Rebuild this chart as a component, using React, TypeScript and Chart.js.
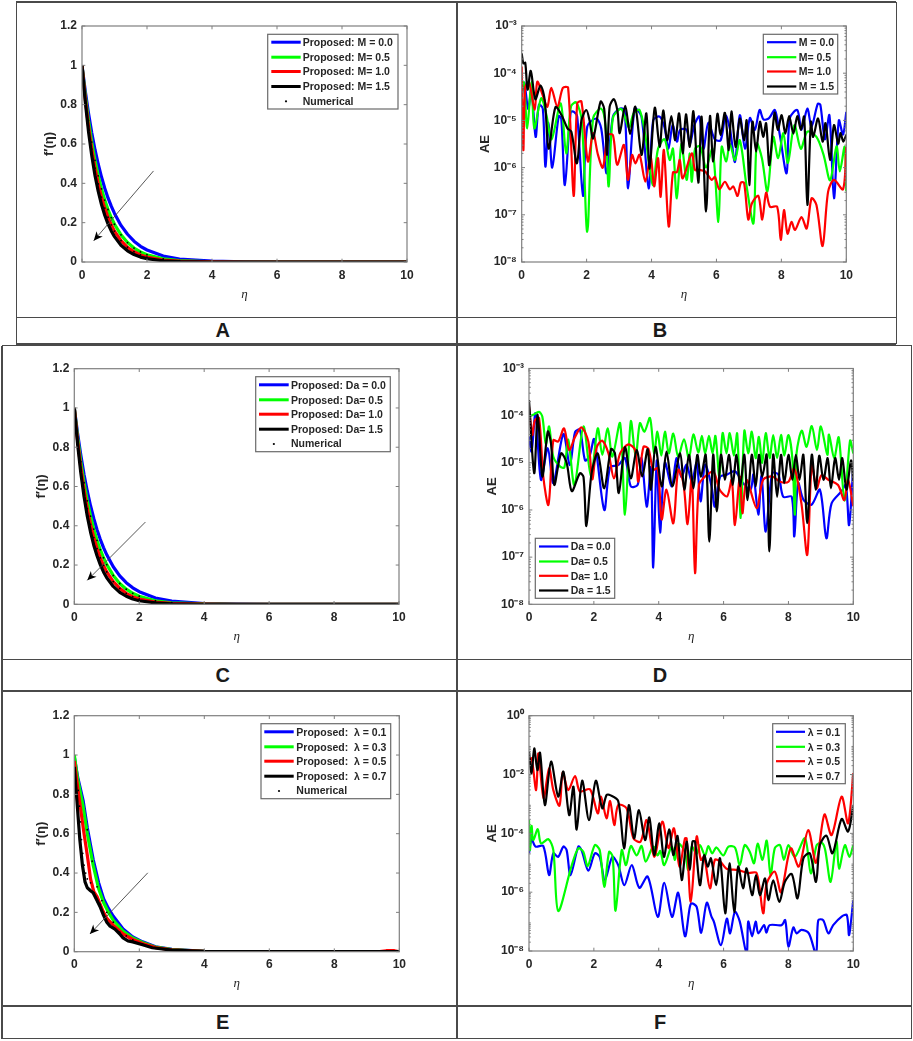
import React, { useEffect, useRef } from "react";
import { Chart, registerables } from "chart.js";

Chart.register(...registerables);

const FONT = "'Liberation Sans', Arial, sans-serif";
const INK = "#262626";
const BLUE = "#0000ff";
const GREEN = "#00ff00";
const RED = "#ff0000";
const BLACK = "#000000";

// ---- f'(eta) panels: shared eta samples
const etaF = [0, 0.1, 0.2, 0.3, 0.4, 0.5, 0.6, 0.7, 0.8, 0.9, 1, 1.2, 1.4, 1.6, 1.8, 2, 2.5, 3, 4, 5, 6, 8, 10];

const aM00 = [1, 0.87, 0.756, 0.657, 0.571, 0.497, 0.432, 0.375, 0.326, 0.284, 0.247, 0.186, 0.141, 0.106, 0.08, 0.061, 0.03, 0.015, 0.004, 0.001, 0, 0, 0];
const aM05 = [1, 0.848, 0.719, 0.61, 0.517, 0.438, 0.372, 0.315, 0.267, 0.226, 0.192, 0.138, 0.099, 0.071, 0.051, 0.037, 0.016, 0.007, 0.001, 0, 0, 0, 0];
const aM10 = [1, 0.831, 0.691, 0.574, 0.477, 0.397, 0.33, 0.274, 0.228, 0.189, 0.157, 0.109, 0.075, 0.052, 0.036, 0.025, 0.01, 0.004, 0.001, 0, 0, 0, 0];
const aM15 = [1, 0.815, 0.664, 0.541, 0.44, 0.359, 0.292, 0.238, 0.194, 0.158, 0.129, 0.085, 0.057, 0.038, 0.025, 0.017, 0.006, 0.002, 0, 0, 0, 0, 0];

const cDa00 = [1, 0.872, 0.76, 0.661, 0.576, 0.502, 0.437, 0.38, 0.331, 0.289, 0.252, 0.191, 0.145, 0.11, 0.084, 0.064, 0.032, 0.016, 0.004, 0.001, 0, 0, 0];
const cDa05 = [1, 0.852, 0.726, 0.619, 0.527, 0.449, 0.383, 0.326, 0.278, 0.237, 0.202, 0.147, 0.106, 0.077, 0.056, 0.041, 0.018, 0.008, 0.002, 0, 0, 0, 0];
const cDa10 = [1, 0.835, 0.698, 0.583, 0.487, 0.407, 0.34, 0.284, 0.237, 0.198, 0.165, 0.116, 0.081, 0.056, 0.039, 0.027, 0.011, 0.005, 0.001, 0, 0, 0, 0];
const cDa15 = [1, 0.819, 0.67, 0.549, 0.449, 0.368, 0.301, 0.247, 0.202, 0.165, 0.135, 0.091, 0.061, 0.041, 0.027, 0.018, 0.007, 0.002, 0, 0, 0, 0, 0];

// lambda panel: every curve has its own samples
const eL01 = [[0, 0.99], [0.1, 0.89], [0.27, 0.77], [0.4, 0.63], [0.58, 0.47], [0.75, 0.35], [0.9, 0.27], [1.05, 0.22], [1.2, 0.18], [1.5, 0.115], [1.8, 0.075], [2.1, 0.05], [2.5, 0.025], [3, 0.012], [4, 0.002], [5, 0], [10, 0]];
const eL03 = [[0, 1], [0.1, 0.88], [0.27, 0.74], [0.4, 0.6], [0.58, 0.44], [0.75, 0.32], [0.9, 0.25], [1.05, 0.2], [1.2, 0.16], [1.5, 0.105], [1.8, 0.07], [2.1, 0.047], [2.5, 0.023], [3, 0.011], [4, 0.002], [5, 0], [10, 0]];
const eL05 = [[0, 0.97], [0.1, 0.84], [0.2, 0.72], [0.3, 0.6], [0.4, 0.49], [0.5, 0.37], [0.6, 0.305], [0.7, 0.28], [0.8, 0.24], [0.9, 0.2], [1, 0.17], [1.2, 0.135], [1.5, 0.09], [1.8, 0.062], [2.1, 0.042], [2.5, 0.021], [3, 0.01], [4, 0.002], [5, 0], [9.4, 0], [9.6, 0.005], [9.85, 0.005], [10, 0]];
const eL07 = [[0, 0.94], [0.08, 0.77], [0.17, 0.57], [0.25, 0.44], [0.33, 0.355], [0.4, 0.325], [0.5, 0.31], [0.58, 0.3], [0.7, 0.26], [0.79, 0.23], [0.9, 0.185], [1, 0.15], [1.1, 0.13], [1.25, 0.115], [1.4, 0.09], [1.5, 0.07], [1.65, 0.055], [1.8, 0.05], [2.1, 0.035], [2.4, 0.02], [3, 0.008], [4, 0.002], [5, 0], [10, 0]];
const eNumerical = [[0.12, 0.82], [0.16, 0.74], [0.19, 0.66], [0.22, 0.57], [0.26, 0.5], [0.3, 0.44], [0.35, 0.4], [0.4, 0.37], [0.5, 0.35], [0.6, 0.3], [0.66, 0.27], [0.72, 0.25], [0.8, 0.24], [0.4, 0.62], [0.55, 0.46], [0.7, 0.33], [0.85, 0.26], [1, 0.2], [1.2, 0.15], [1.4, 0.1], [1.6, 0.08], [1.8, 0.06], [2.1, 0.04]];

// ---- AE panels: [eta, log10(AE)] pairs
const bM00 = [[0, -4.5], [0.08, -4.2], [0.2, -4.76], [0.3, -4.35], [0.43, -5.35], [0.53, -4.67], [0.65, -4.75], [0.73, -5.98], [0.83, -5.05], [0.94, -6], [1.14, -4.91], [1.22, -4.97], [1.33, -6.37], [1.51, -4.82], [1.61, -4.82], [1.71, -4.92], [1.89, -6.6], [2.02, -5.13], [2.3, -4.96], [2.45, -5.17], [2.62, -6.12], [2.81, -4.92], [3.02, -4.75], [3.17, -4.78], [3.28, -6.44], [3.48, -4.75], [3.69, -4.92], [3.91, -6.44], [4.05, -5], [4.25, -4.92], [4.4, -5.15], [4.52, -5.6], [4.65, -5.1], [4.78, -5.45], [4.88, -5.2], [5.08, -5.2], [5.18, -5.5], [5.32, -5.1], [5.47, -4.92], [5.6, -5.6], [5.75, -5.05], [5.95, -5.4], [6.13, -5.42], [6.28, -4.9], [6.42, -5.2], [6.57, -5.88], [6.72, -4.89], [6.88, -5.6], [7.03, -4.95], [7.18, -5.2], [7.33, -4.78], [7.45, -4.98], [7.62, -4.95], [7.8, -4.78], [7.95, -5.3], [8.16, -6.12], [8.26, -4.95], [8.49, -4.78], [8.62, -5.2], [8.8, -4.75], [8.93, -5.13], [9.12, -4.65], [9.2, -4.67], [9.34, -5.4], [9.48, -4.89], [9.62, -6.65], [9.77, -5], [9.9, -5.3], [10, -4.82]];
const bM05 = [[0, -4.2], [0.07, -4.2], [0.17, -5.17], [0.3, -4.18], [0.39, -5.17], [0.6, -4.53], [0.76, -4.88], [0.92, -5.4], [1.2, -4.64], [1.37, -5.7], [1.52, -4.7], [1.68, -4.62], [1.85, -5], [2.02, -7.36], [2.2, -4.95], [2.45, -4.75], [2.58, -5.1], [2.68, -6.4], [2.81, -4.95], [3.07, -4.76], [3.3, -5.15], [3.45, -4.85], [3.63, -4.78], [3.8, -5.28], [3.92, -5.9], [4.05, -6.37], [4.2, -5.6], [4.4, -5.4], [4.56, -5.84], [4.66, -5.6], [4.78, -6.65], [4.92, -5.5], [5.08, -6.26], [5.18, -5.7], [5.24, -6.3], [5.34, -5.6], [5.5, -5.55], [5.68, -6], [5.88, -5.6], [6.06, -7.15], [6.16, -5.56], [6.3, -5.87], [6.41, -5.49], [6.57, -5.84], [6.72, -5.42], [6.93, -6.4], [7.14, -7.18], [7.24, -5.49], [7.4, -5.8], [7.57, -6.5], [7.75, -5.35], [7.9, -5.8], [8.06, -5.27], [8.2, -5.9], [8.4, -5.1], [8.6, -5.6], [8.8, -5.24], [9.08, -5.35], [9.3, -5.73], [9.5, -6.27], [9.7, -5.55], [9.8, -6.08], [9.95, -5.56], [10, -6.5]];
const bM10 = [[0, -3.86], [0.05, -5.63], [0.11, -4.29], [0.23, -4.2], [0.4, -4.78], [0.48, -4.18], [0.63, -4.43], [0.79, -4.71], [0.91, -4.31], [1.1, -4.71], [1.27, -4.31], [1.43, -4.31], [1.6, -6.6], [1.71, -4.64], [1.84, -4.6], [2.04, -5.87], [2.2, -5.27], [2.35, -5.73], [2.5, -6], [2.66, -5.31], [2.81, -5.31], [2.94, -5.94], [3.15, -5.52], [3.27, -6.26], [3.4, -5.73], [3.5, -5.91], [3.63, -5.73], [3.81, -6.3], [3.97, -5.75], [4.08, -6.4], [4.2, -5.8], [4.28, -6.62], [4.38, -5.63], [4.53, -7.25], [4.66, -6.1], [4.78, -6.1], [4.87, -5.84], [4.96, -6.23], [5.24, -5.7], [5.34, -6.05], [5.49, -6.05], [5.65, -6.08], [5.85, -6.26], [5.95, -6.2], [6.09, -6.46], [6.26, -6.3], [6.41, -6.46], [6.52, -6.4], [6.65, -6.6], [6.75, -6.32], [6.85, -6.32], [6.98, -7.1], [7.09, -6.76], [7.29, -6.6], [7.41, -7.1], [7.53, -6.53], [7.65, -6.83], [7.87, -6.83], [7.98, -7.53], [8.08, -6.9], [8.19, -7.4], [8.31, -7.15], [8.42, -7.32], [8.62, -7.05], [8.78, -7.29], [8.93, -6.65], [9.08, -6.79], [9.27, -7.66], [9.44, -6.51], [9.62, -6.26], [9.9, -6.46], [10, -5.56]];
const bM15 = [[0, -3.58], [0.05, -3.79], [0.11, -3.78], [0.18, -4.35], [0.28, -3.95], [0.42, -4.55], [0.58, -4.26], [0.71, -4.57], [0.83, -5.6], [1.04, -4.72], [1.23, -4.89], [1.41, -5.17], [1.53, -5.24], [1.7, -5.91], [1.84, -5], [1.99, -4.78], [2.09, -5], [2.2, -5.38], [2.43, -4.6], [2.54, -4.75], [2.63, -5.73], [2.71, -4.71], [2.84, -4.55], [2.95, -4.8], [3.02, -5.27], [3.19, -4.69], [3.34, -5.29], [3.5, -4.71], [3.69, -5.73], [3.84, -4.85], [3.94, -6.02], [4.1, -4.73], [4.25, -5.56], [4.36, -4.79], [4.48, -5.42], [4.61, -4.91], [4.73, -5.42], [4.85, -4.85], [4.96, -5.7], [5.06, -4.87], [5.18, -5.56], [5.29, -4.81], [5.44, -6.32], [5.54, -4.92], [5.68, -6.93], [5.8, -4.91], [5.9, -5.87], [6.03, -4.86], [6.13, -5.31], [6.26, -4.84], [6.38, -5.63], [6.46, -4.81], [6.59, -5.56], [6.72, -4.96], [6.85, -5.42], [6.93, -5], [7.01, -6.37], [7.11, -5.03], [7.22, -5.66], [7.34, -5.03], [7.44, -5.35], [7.53, -5.06], [7.63, -5.95], [7.79, -4.84], [7.89, -5.2], [8.01, -4.89], [8.12, -5.28], [8.24, -4.91], [8.37, -5.28], [8.49, -4.91], [8.6, -5.2], [8.7, -4.92], [8.8, -6.79], [8.91, -5.03], [8.98, -5.35], [9.13, -4.96], [9.27, -5.45], [9.36, -5.06], [9.5, -5.84], [9.62, -5.1], [9.75, -5.49], [9.82, -5.27], [9.91, -5.45], [10, -5.3]];

const dDa00 = [[0, -4.44], [0.08, -4.76], [0.2, -3.95], [0.37, -5.36], [0.58, -4.69], [0.75, -5.43], [1.06, -4.39], [1.26, -5.05], [1.42, -4.35], [1.57, -4.3], [1.73, -4.95], [1.87, -4.85], [2.01, -4.5], [2.32, -6], [2.5, -5.1], [2.75, -5.05], [2.96, -4.9], [3.14, -5.5], [3.35, -5.47], [3.47, -4.9], [3.63, -5.93], [3.76, -5.1], [3.83, -7.22], [3.94, -4.95], [4.04, -6.48], [4.19, -5], [4.4, -5.5], [4.55, -4.9], [4.7, -5.3], [4.86, -5.04], [5.02, -5.4], [5.17, -5], [5.29, -5.82], [5.43, -5.04], [5.63, -5.5], [5.73, -5.93], [5.89, -5.3], [6.1, -5.25], [6.35, -5.18], [6.6, -5.43], [6.83, -5.57], [6.92, -5.25], [7.07, -6.1], [7.17, -5.28], [7.3, -6.46], [7.5, -5.22], [7.69, -5.25], [7.84, -5.72], [8.1, -5.72], [8.18, -6.56], [8.3, -5.43], [8.46, -5.78], [8.71, -5.89], [8.97, -5.57], [9.17, -6.6], [9.33, -5.86], [9.64, -5.6], [9.77, -5.47], [9.87, -6.32], [10, -5.08]];
const dDa05 = [[0, -4.02], [0.13, -3.98], [0.31, -3.92], [0.41, -4.02], [0.52, -4.6], [0.62, -4.23], [0.75, -4.87], [0.96, -5.08], [1.09, -5.1], [1.21, -4.51], [1.4, -5.47], [1.68, -4.23], [1.91, -5.29], [2.12, -4.27], [2.26, -4.83], [2.43, -4.27], [2.57, -4.87], [2.81, -4.16], [2.96, -6.1], [3.14, -4.12], [3.29, -4.87], [3.42, -4.16], [3.56, -4.34], [3.73, -4.05], [3.86, -4.8], [3.96, -4.34], [4.08, -4.85], [4.19, -4.34], [4.31, -4.8], [4.45, -4.38], [4.6, -4.87], [4.78, -4.5], [4.93, -4.9], [5.07, -4.4], [5.22, -4.78], [5.33, -4.43], [5.43, -4.8], [5.55, -4.43], [5.66, -4.8], [5.75, -4.43], [5.87, -5.3], [5.97, -4.37], [6.09, -4.8], [6.19, -4.37], [6.32, -4.85], [6.42, -4.38], [6.53, -6.17], [6.64, -4.32], [6.76, -4.8], [6.87, -4.34], [6.99, -4.9], [7.09, -4.45], [7.19, -5], [7.3, -4.37], [7.42, -4.9], [7.53, -4.41], [7.65, -4.9], [7.77, -4.41], [7.87, -4.85], [8, -4.41], [8.12, -4.9], [8.2, -6.1], [8.25, -4.8], [8.41, -4.32], [8.56, -4.66], [8.72, -4.22], [8.88, -4.73], [9, -4.23], [9.2, -4.83], [9.25, -4.4], [9.41, -4.9], [9.55, -4.46], [9.73, -5.8], [9.9, -4.53], [10, -4.8]];
const dDa10 = [[0, -3.81], [0.1, -4.41], [0.18, -4.1], [0.31, -4.05], [0.44, -5.29], [0.6, -5.89], [0.75, -4.52], [0.9, -4.55], [1.08, -4.27], [1.24, -4.73], [1.42, -4.45], [1.62, -4.25], [1.83, -4.55], [1.95, -5.35], [2.09, -4.67], [2.26, -4.53], [2.45, -4.8], [2.62, -5.33], [2.81, -4.8], [3.06, -4.61], [3.27, -4.73], [3.37, -5.4], [3.53, -4.66], [3.68, -4.7], [3.83, -5.15], [3.97, -5.11], [4.09, -6.2], [4.24, -5.57], [4.45, -6.28], [4.6, -5.15], [4.76, -5.43], [4.89, -6.3], [5.02, -5.3], [5.12, -7.34], [5.24, -5.47], [5.43, -5.29], [5.69, -5.19], [5.88, -5.57], [6.11, -5.71], [6.25, -5.36], [6.35, -6.32], [6.5, -5.29], [6.58, -6.07], [6.71, -5.36], [7.02, -5.96], [7.22, -5.36], [7.5, -5.29], [7.74, -5.4], [8, -5.4], [8.18, -5.12], [8.4, -5.86], [8.58, -6.95], [8.72, -5.04], [8.87, -5.54], [9.02, -5.26], [9.23, -5.36], [9.53, -5.47], [9.72, -5.79], [9.84, -5.36], [10, -5.92]];
const dDa15 = [[0, -3.67], [0.16, -5.22], [0.27, -3.98], [0.41, -5.29], [0.58, -4.34], [0.68, -4.6], [0.78, -5.47], [0.99, -4.8], [1.16, -5], [1.32, -5.6], [1.57, -5.22], [1.68, -5.3], [1.77, -6.34], [1.93, -5.22], [2.12, -4.8], [2.32, -5.54], [2.53, -4.71], [2.65, -4.8], [2.77, -5.64], [2.96, -4.67], [3.14, -5.33], [3.32, -4.73], [3.49, -5.29], [3.66, -4.71], [3.76, -5.57], [3.9, -4.66], [4.09, -5.5], [4.24, -4.76], [4.42, -5.5], [4.66, -4.8], [4.79, -5.57], [4.93, -4.83], [5.07, -5.54], [5.19, -4.83], [5.3, -5.3], [5.45, -4.83], [5.56, -6.67], [5.68, -4.83], [5.79, -6.03], [5.92, -4.83], [6.04, -5.36], [6.17, -4.83], [6.28, -5.47], [6.4, -4.83], [6.51, -5.5], [6.64, -4.83], [6.74, -5.79], [6.87, -4.83], [6.99, -5.5], [7.09, -4.83], [7.19, -5.3], [7.33, -4.83], [7.41, -6.88], [7.53, -4.83], [7.65, -5.72], [7.77, -4.83], [7.87, -5.43], [8, -4.83], [8.12, -5.36], [8.23, -4.83], [8.34, -5.36], [8.46, -4.83], [8.58, -6.28], [8.72, -4.83], [8.84, -5.57], [8.95, -4.85], [9.08, -5.36], [9.21, -4.9], [9.31, -5.54], [9.44, -4.9], [9.56, -5.36], [9.66, -4.9], [9.79, -5.57], [9.93, -4.95], [10, -5.4]];

const fL01 = [[0, -4.68], [0.08, -4.2], [0.2, -4.45], [0.44, -4.43], [0.62, -5.42], [0.75, -4.68], [0.9, -4.8], [1.06, -4.45], [1.16, -4.57], [1.28, -5.42], [1.52, -4.45], [1.62, -4.57], [1.83, -5.27], [2.03, -4.68], [2.18, -4.8], [2.34, -5.59], [2.57, -4.8], [2.75, -5.08], [2.94, -5.76], [3.17, -5.08], [3.4, -5.85], [3.66, -5.47], [3.97, -6.84], [4.17, -5.68], [4.41, -6.84], [4.6, -6.02], [4.81, -7.5], [4.96, -6.5], [5.02, -6.38], [5.17, -6.5], [5.31, -7.38], [5.48, -6.36], [5.63, -6.84], [5.7, -7], [5.92, -7.8], [6.1, -6.9], [6.2, -7.4], [6.35, -6.67], [6.5, -7], [6.71, -8.1], [6.76, -7], [6.88, -7.5], [6.99, -7], [7.07, -7.4], [7.25, -7.12], [7.32, -7.38], [7.42, -7.12], [7.79, -7.12], [7.9, -6.95], [8, -7.85], [8.15, -7.2], [8.25, -7.4], [8.4, -7.28], [8.63, -7.4], [8.85, -8.1], [8.92, -6.95], [9.07, -6.95], [9.23, -7.4], [9.38, -7.12], [9.64, -6.83], [9.8, -6.78], [9.87, -7.46], [10, -6.27]];
const fL03 = [[0, -3.55], [0.03, -4.56], [0.08, -3.75], [0.13, -4.23], [0.27, -3.86], [0.37, -4.34], [0.6, -4.2], [0.75, -4.57], [0.9, -6.64], [1.32, -5.08], [1.52, -4.51], [1.67, -4.62], [1.81, -5.11], [2.03, -4.4], [2.18, -4.57], [2.32, -5.82], [2.47, -4.63], [2.58, -4.8], [2.67, -6.63], [2.86, -4.57], [2.99, -5.08], [3.14, -4.43], [3.32, -4.75], [3.47, -4.43], [3.6, -4.96], [3.83, -4.45], [3.96, -4.75], [4.05, -4.6], [4.17, -5.08], [4.4, -4.45], [4.5, -4.9], [4.6, -4.35], [4.8, -4.6], [4.91, -5.25], [5.02, -4.45], [5.17, -4.7], [5.27, -4.4], [5.43, -4.75], [5.53, -4.43], [5.65, -4.68], [5.78, -4.48], [5.99, -4.75], [6.15, -4.45], [6.35, -4.48], [6.5, -5.08], [6.65, -4.4], [6.81, -4.63], [6.94, -5.02], [7.05, -4.35], [7.2, -4.9], [7.33, -4.25], [7.45, -5.42], [7.58, -4.5], [7.74, -4.4], [7.86, -4.9], [8, -4.4], [8.2, -4.8], [8.51, -4.17], [8.69, -5.36], [8.87, -4.4], [9.03, -4.32], [9.13, -4.55], [9.3, -5.65], [9.48, -4.28], [9.56, -5.2], [9.74, -4.4], [9.88, -4.8], [10, -4.4]];
const fL05 = [[0, -1.51], [0.08, -1.45], [0.22, -2.53], [0.29, -1.28], [0.45, -2.8], [0.62, -1.79], [0.75, -2.53], [0.94, -3.06], [1.04, -1.93], [1.21, -2.53], [1.42, -2.05], [1.57, -2.58], [1.88, -2.5], [2.12, -3.32], [2.22, -2.75], [2.39, -3.49], [2.5, -2.9], [2.63, -3.72], [2.75, -3.04], [3.01, -3.15], [3.22, -4.17], [3.44, -4.28], [3.63, -3.55], [3.86, -4.8], [4.11, -3.6], [4.3, -4.5], [4.47, -3.83], [4.64, -5.13], [4.81, -4.17], [4.86, -4.17], [4.99, -6.33], [5.17, -4.11], [5.3, -4.9], [5.4, -4.8], [5.58, -5.87], [5.73, -4.9], [5.89, -4.95], [6.09, -5.2], [6.45, -5.25], [6.76, -5.35], [7.02, -5.35], [7.22, -6.72], [7.33, -5.7], [7.58, -5.3], [7.77, -6], [8.07, -4.51], [8.32, -5.13], [8.61, -3.89], [8.85, -5], [9.11, -3.36], [9.33, -4.06], [9.64, -2.75], [9.84, -3.66], [10, -1.95]];
const fL07 = [[0, -1.22], [0.08, -1.96], [0.16, -1.11], [0.26, -1.85], [0.34, -1.26], [0.49, -3.04], [0.68, -1.56], [0.9, -2.75], [1.06, -1.9], [1.24, -3.38], [1.37, -2.41], [1.47, -3.87], [1.64, -2.21], [1.85, -3.55], [2.06, -2.21], [2.26, -3.15], [2.39, -2.7], [2.5, -2.7], [2.75, -2.9], [2.93, -4.51], [3.08, -3.04], [3.24, -4.17], [3.39, -3.21], [3.58, -4.23], [3.71, -3.46], [3.86, -4.74], [4.02, -3.66], [4.16, -4.8], [4.32, -3.86], [4.45, -4.74], [4.58, -4.09], [4.71, -5.59], [4.86, -4.28], [4.96, -5.25], [5.04, -4.28], [5.12, -4.28], [5.27, -5.76], [5.4, -4.74], [5.51, -5.13], [5.61, -4.85], [5.77, -5.76], [5.89, -4.85], [6.05, -6.72], [6.18, -5.02], [6.33, -6.67], [6.45, -5.13], [6.6, -5.87], [6.71, -5.19], [6.88, -6.1], [7, -5.42], [7.12, -6.1], [7.28, -5.53], [7.38, -6.27], [7.53, -5.6], [7.72, -6.33], [7.89, -5.65], [8.1, -5.38], [8.28, -6.21], [8.46, -4.85], [8.66, -4.68], [8.85, -5.65], [8.97, -4.4], [9.17, -4.08], [9.36, -4.68], [9.64, -3.51], [9.84, -3.94], [10, -3.04]];

// ---- tick values and labels
const etaTicks = [0, 2, 4, 6, 8, 10];
const fTicks = [0, 0.2, 0.4, 0.6, 0.8, 1, 1.2];
const fTickLabels = ["0", "0.2", "0.4", "0.6", "0.8", "1", "1.2"];
const aeTicks8to3 = [1e-8, 1e-7, 1e-6, 1e-5, 1e-4, 1e-3];
const aeLabels8to3 = ["10⁻⁸", "10⁻⁷", "10⁻⁶", "10⁻⁵", "10⁻⁴", "10⁻³"];
const aeTicks8to0 = [1e-8, 1e-6, 1e-4, 1e-2, 1];
const aeLabels8to0 = ["10⁻⁸", "10⁻⁶", "10⁻⁴", "10⁻²", "10⁰"];

const fromSamples = (ys: number[]) => ys.map((y, i) => ({ x: etaF[i], y }));
const fromPairs = (p: number[][]) => p.map(([x, y]) => ({ x, y }));
const fromLog = (p: number[][]) => p.map(([x, lg]) => ({ x, y: Math.pow(10, lg) }));
const sampled = (curves: number[][]) =>
  curves.flatMap((c) => fromSamples(c).filter((pt) => pt.x > 0.05 && pt.x <= 3));

const COLORS = [BLUE, GREEN, RED, BLACK];

type Panel = {
  letter: string;
  cell: [number, number, number, number];
  plot: [number, number, number, number];
  xTitleY: number;
  yTitleX: number;
  yTitle: string;
  log: boolean;
  series: { x: number; y: number }[][];
  labels: string[];
  numerical?: { x: number; y: number }[];
  arrow?: [number, number, number, number];
  legend: { box: [number, number, number, number]; rowY: number[]; sample: [number, number]; textX: number };
  letterPos: [number, number];
  yMin: number;
  yMax: number;
  yTicks: number[];
  yLabels: string[];
};

const panels: Panel[] = [
  {
    letter: "A", cell: [18, 4, 437, 312], plot: [82, 26, 407, 262], xTitleY: 295, yTitleX: 49, yTitle: "f′(η)", log: false,
    series: [aM00, aM05, aM10, aM15].map(fromSamples),
    labels: ["Proposed: M = 0.0", "Proposed: M= 0.5", "Proposed: M= 1.0", "Proposed: M= 1.5", "Numerical"],
    numerical: sampled([aM05, aM10]), arrow: [2.2, 0.463, 0.36, 0.108],
    legend: { box: [267.7, 34.3, 398, 109], rowY: [42.7, 57.7, 72, 87, 101.3], sample: [271.3, 300.7], textX: 302.7 },
    letterPos: [222.7, 330], yMin: 0, yMax: 1.2, yTicks: fTicks, yLabels: fTickLabels,
  },
  {
    letter: "B", cell: [459, 4, 436, 312], plot: [521.7, 26, 846.3, 262], xTitleY: 295, yTitleX: 485.3, yTitle: "AE", log: true,
    series: [bM00, bM05, bM10, bM15].map(fromLog),
    labels: ["M = 0.0", "M= 0.5", "M= 1.0", "M = 1.5"],
    legend: { box: [763.3, 34.3, 837.7, 94], rowY: [42.7, 57.7, 72, 87], sample: [767, 796.3], textX: 798.7 },
    letterPos: [660, 330], yMin: 1e-8, yMax: 1e-3, yTicks: aeTicks8to3, yLabels: aeLabels8to3,
  },
  {
    letter: "C", cell: [4, 347, 451, 311], plot: [74.3, 368.7, 399, 604.3], xTitleY: 636.7, yTitleX: 41.7, yTitle: "f′(η)", log: false,
    series: [cDa00, cDa05, cDa10, cDa15].map(fromSamples),
    labels: ["Proposed: Da = 0.0", "Proposed: Da= 0.5", "Proposed: Da= 1.0", "Proposed: Da= 1.5", "Numerical"],
    numerical: sampled([cDa05, cDa10]), arrow: [2.19, 0.419, 0.4, 0.122],
    legend: { box: [255.7, 376.7, 390.3, 451.7], rowY: [385.3, 400.3, 414.7, 429.7, 444], sample: [259, 288.7], textX: 291 },
    letterPos: [222.7, 675], yMin: 0, yMax: 1.2, yTicks: fTicks, yLabels: fTickLabels,
  },
  {
    letter: "D", cell: [459, 347, 452, 311], plot: [529, 368.5, 853.3, 604.3], xTitleY: 636.7, yTitleX: 492, yTitle: "AE", log: true,
    series: [dDa00, dDa05, dDa10, dDa15].map(fromLog),
    labels: ["Da = 0.0", "Da= 0.5", "Da= 1.0", "Da = 1.5"],
    legend: { box: [535.3, 538.3, 614.7, 598.3], rowY: [547, 562, 576.3, 591], sample: [539, 568.3], textX: 570.7 },
    letterPos: [660, 675], yMin: 1e-8, yMax: 1e-3, yTicks: aeTicks8to3, yLabels: aeLabels8to3,
  },
  {
    letter: "E", cell: [4, 693, 451, 312], plot: [74.3, 715.7, 399.3, 951.7], xTitleY: 984, yTitleX: 41.7, yTitle: "f′(η)", log: false,
    series: [eL01, eL03, eL05, eL07].map(fromPairs),
    labels: ["Proposed:  λ = 0.1", "Proposed:  λ = 0.3", "Proposed:  λ = 0.5", "Proposed:  λ = 0.7", "Numerical"],
    numerical: fromPairs(eNumerical), arrow: [2.26, 0.401, 0.48, 0.09],
    legend: { box: [261, 723.7, 390.7, 798.7], rowY: [732.3, 747.3, 761.7, 776.7, 791], sample: [264.3, 293.7], textX: 296.3 },
    letterPos: [222.7, 1021.7], yMin: 0, yMax: 1.2, yTicks: fTicks, yLabels: fTickLabels,
  },
  {
    letter: "F", cell: [459, 693, 452, 312], plot: [529, 715.7, 853.3, 951], xTitleY: 984, yTitleX: 492, yTitle: "AE", log: true,
    series: [fL01, fL03, fL05, fL07].map(fromLog),
    labels: ["λ = 0.1", "λ = 0.3", "λ = 0.5", "λ = 0.7"],
    legend: { box: [772.7, 723.7, 845.3, 783.7], rowY: [732.3, 747.3, 761.7, 776.7], sample: [776, 805], textX: 807.7 },
    letterPos: [660, 1021.7], yMin: 1e-8, yMax: 1, yTicks: aeTicks8to0, yLabels: aeLabels8to0,
  },
];

const FRAME = "#7f7f7f";

function framePlugin(p: Panel) {
  const [cx, cy] = p.cell;
  return {
    id: "matlabFrame",
    afterDatasetsDraw(chart: any) {
      const { ctx, chartArea: a, scales } = chart;
      const xs = scales.x;
      const ys = scales.y;
      ctx.save();
      ctx.strokeStyle = FRAME;
      ctx.lineWidth = 1.2;
      ctx.strokeRect(a.left, a.top, a.right - a.left, a.bottom - a.top);
      ctx.lineWidth = 1;
      ctx.beginPath();
      for (const t of etaTicks) {
        const x = xs.getPixelForValue(t);
        ctx.moveTo(x, a.bottom); ctx.lineTo(x, a.bottom - 3.3);
        ctx.moveTo(x, a.top); ctx.lineTo(x, a.top + 3.3);
      }
      const hTick = (y: number, len: number) => {
        ctx.moveTo(a.left, y); ctx.lineTo(a.left + len, y);
        ctx.moveTo(a.right, y); ctx.lineTo(a.right - len, y);
      };
      for (const t of p.yTicks) hTick(ys.getPixelForValue(t), 3.3);
      if (p.log) {
        for (let e = Math.round(Math.log10(p.yMin)); e < Math.round(Math.log10(p.yMax)); e++) {
          for (let m = 2; m < 10; m++) hTick(ys.getPixelForValue(m * Math.pow(10, e)), 1.8);
        }
      }
      ctx.stroke();

      if (p.arrow) {
        const [x0, y0, x1, y1] = p.arrow;
        const ax = xs.getPixelForValue(x0), ay = ys.getPixelForValue(y0);
        const bx = xs.getPixelForValue(x1), by = ys.getPixelForValue(y1);
        const ang = Math.atan2(by - ay, bx - ax);
        ctx.strokeStyle = "#444444";
        ctx.lineWidth = 0.9;
        ctx.beginPath(); ctx.moveTo(ax, ay); ctx.lineTo(bx, by); ctx.stroke();
        ctx.fillStyle = "#000000";
        ctx.beginPath();
        ctx.moveTo(bx, by);
        ctx.lineTo(bx - 10 * Math.cos(ang - 0.42), by - 10 * Math.sin(ang - 0.42));
        ctx.lineTo(bx - 6.5 * Math.cos(ang), by - 6.5 * Math.sin(ang));
        ctx.lineTo(bx - 10 * Math.cos(ang + 0.42), by - 10 * Math.sin(ang + 0.42));
        ctx.closePath();
        ctx.fill();
      }

      const L = p.legend;
      const [l, t, r, b] = L.box;
      ctx.fillStyle = "#ffffff";
      ctx.fillRect(l - cx, t - cy, r - l, b - t);
      ctx.strokeStyle = "#6a6a6a";
      ctx.lineWidth = 1.2;
      ctx.strokeRect(l - cx, t - cy, r - l, b - t);
      ctx.font = `bold 10.5px ${FONT}`;
      ctx.textBaseline = "middle";
      ctx.textAlign = "left";
      p.labels.forEach((label, i) => {
        const y = L.rowY[i] - cy;
        if (i < 4) {
          ctx.strokeStyle = COLORS[i];
          ctx.lineWidth = p.log ? 2.2 : 3;
          ctx.beginPath();
          ctx.moveTo(L.sample[0] - cx, y - 0.5);
          ctx.lineTo(L.sample[1] - cx, y - 0.5);
          ctx.stroke();
        } else {
          ctx.fillStyle = "#000000";
          ctx.beginPath();
          ctx.arc((L.sample[0] + L.sample[1]) / 2 - cx, y, 1.1, 0, Math.PI * 2);
          ctx.fill();
        }
        ctx.fillStyle = INK;
        ctx.fillText(label, L.textX - cx, y + 0.5);
      });
      ctx.restore();
    },
  };
}

function PanelChart({ p }: { p: Panel }) {
  const ref = useRef<HTMLCanvasElement | null>(null);
  useEffect(() => {
    if (!ref.current) return;
    const [cx, cy, cw, ch] = p.cell;
    const [pl, pt, pr, pb] = p.plot;
    const yFont = 13;
    const yHalf = (yFont * 1.2) / 2;
    const xHalf = (13 * 1.2) / 2;
    const datasets: any[] = p.series.map((data, i) => ({
      type: "line",
      label: p.labels[i],
      data,
      borderColor: COLORS[i],
      backgroundColor: COLORS[i],
      borderWidth: p.log ? 2.2 : 3.2,
      borderJoinStyle: "round",
      pointRadius: 0,
      tension: p.log ? 0.3 : 0,
      fill: false,
      order: 10 - i,
    }));
    if (p.numerical) {
      datasets.push({
        type: "line",
        label: "Numerical",
        data: p.numerical,
        showLine: false,
        pointRadius: 0.9,
        pointBackgroundColor: "#000000",
        pointBorderWidth: 0,
        order: 1,
      });
    }
    const chart = new Chart(ref.current, {
      type: "line",
      data: { datasets },
      plugins: [framePlugin(p)],
      options: {
        responsive: false,
        devicePixelRatio: 1,
        animation: false,
        parsing: { xAxisKey: "x", yAxisKey: "y" },
        layout: {
          padding: {
            left: p.yTitleX - yHalf - cx,
            top: pt - cy,
            right: cx + cw - pr,
            bottom: cy + ch - (p.xTitleY + xHalf),
          },
        },
        plugins: { legend: { display: false }, tooltip: { enabled: false }, title: { display: false } },
        scales: {
          x: {
            type: "linear",
            min: 0,
            max: 10,
            grid: { display: false, drawTicks: false },
            border: { display: false },
            afterBuildTicks: (s: any) => { s.ticks = etaTicks.map((value) => ({ value })); },
            afterFit: (s: any) => { s.height = p.xTitleY + xHalf - pb; },
            ticks: {
              autoSkip: false, maxRotation: 0, padding: 6, color: INK,
              font: { family: FONT, size: 12, weight: "bold" },
              callback: (v: any) => String(v),
            },
            title: {
              display: true, text: "η", color: INK, padding: 0,
              font: { family: "'Liberation Serif', serif", size: 13, style: "italic" },
            },
          },
          y: {
            type: p.log ? "logarithmic" : "linear",
            min: p.yMin,
            max: p.yMax,
            grid: { display: false, drawTicks: false },
            border: { display: false },
            afterBuildTicks: (s: any) => { s.ticks = p.yTicks.map((value) => ({ value })); },
            afterFit: (s: any) => { s.width = pl - (p.yTitleX - yHalf); },
            ticks: {
              autoSkip: false, padding: 5, color: INK,
              font: { family: FONT, size: 12, weight: "bold" },
              callback: (_v: any, i: number) => p.yLabels[i],
            },
            title: {
              display: true, text: p.yTitle, color: INK, padding: 0,
              font: { family: FONT, size: yFont, weight: "bold" },
            },
          },
        },
      } as any,
    });
    return () => chart.destroy();
  }, [p]);
  const [cx, cy, cw, ch] = p.cell;
  return (
    <canvas
      ref={ref}
      width={cw}
      height={ch}
      style={{ position: "absolute", left: cx, top: cy, width: cw, height: ch }}
    />
  );
}

// table rules: x/y/length in page pixels
const LINE = "#4a4a4a";
const hRules: [number, number, number][] = [
  [16, 2, 880], [16, 317.3, 880], [16, 344, 880],
  [2, 345.5, 910], [2, 659.3, 910], [2, 691, 910],
  [2, 1006, 910], [2, 1038.7, 910],
];
const vRules: [number, number, number][] = [
  [16.5, 2, 342], [457, 2, 342], [896.3, 2, 342],
  [2, 345.5, 345.5], [457, 345.5, 345.5], [911.5, 345.5, 345.5],
  [2, 691, 347.7], [457, 691, 347.7], [911.5, 691, 347.7],
];

export default function App() {
  return (
    <div style={{ position: "absolute", left: 0, top: 0, width: 913, height: 1041, overflow: "hidden", background: "#fff" }}>
      {hRules.map(([x, y, w], i) => (
        <div key={`h${i}`} style={{ position: "absolute", left: x, top: y - 0.75, width: w, height: 1.5, background: LINE }} />
      ))}
      {vRules.map(([x, y, h], i) => (
        <div key={`v${i}`} style={{ position: "absolute", left: x - 0.75, top: y, width: 1.5, height: h, background: LINE }} />
      ))}
      {panels.map((p) => (
        <PanelChart key={p.letter} p={p} />
      ))}
      {panels.map((p) => (
        <div
          key={`l${p.letter}`}
          style={{
            position: "absolute", left: p.letterPos[0] - 20, top: p.letterPos[1] - 13, width: 40, height: 26, lineHeight: "26px",
            textAlign: "center", fontFamily: FONT, fontWeight: "bold", fontSize: 20, color: "#1a1a1a",
          }}
        >
          {p.letter}
        </div>
      ))}
    </div>
  );
}
